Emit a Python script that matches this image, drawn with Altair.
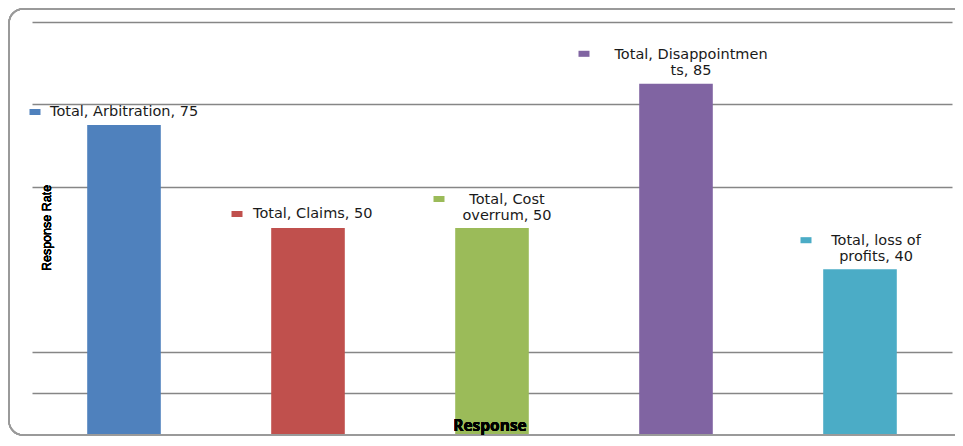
import altair as alt
import pandas as pd

categories = ["Arbitration", "Claims", "Cost overrum", "Disappointments", "loss of profits"]
values = [75, 50, 50, 85, 40]
label_lines = [
    ["Total, Arbitration, 75"],
    ["Total, Claims, 50"],
    ["Total, Cost", "overrum, 50"],
    ["Total, Disappointmen", "ts, 85"],
    ["Total, loss of", "profits, 40"],
]
colors = ["#4F81BD", "#C0504D", "#9BBB59", "#8064A2", "#4BACC6"]
grid_values = [10, 20, 60, 80, 100]

df = pd.DataFrame({"cat": categories, "val": values,
                   "label": ["\n".join(l) for l in label_lines]})

# label styling offsets (pixels): text dx, text dy, align, square dx, square dy
label_style = {
    "Arbitration": dict(dx=-74, dy=-13, align="left", sdx=-89, sdy=-13),
    "Claims": dict(dx=-55, dy=-14, align="left", sdx=-71, sdy=-14),
    "Cost overrum": dict(dx=15, dy=-28, align="center", sdx=-53, sdy=-29),
    "Disappointments": dict(dx=15, dy=-29, align="center", sdx=-92, sdy=-30),
    "loss of profits": dict(dx=16, dy=-28, align="center", sdx=-54, sdy=-29),
}

x_enc = alt.X("cat:N", sort=categories, axis=None,
              scale=alt.Scale(paddingInner=0.6, paddingOuter=0.3))
y_scale = alt.Scale(domain=[0, 100], nice=False)

frame = alt.Chart(df).mark_rect(
    fill=None, stroke="#9a9a9a", strokeWidth=1.5, cornerRadius=14
).encode(x=alt.value(-23), x2=alt.value(1000), y=alt.value(-13), y2=alt.value(413))

bars = alt.Chart(df).mark_bar().encode(
    x=x_enc,
    y=alt.Y("val:Q", scale=y_scale,
            axis=alt.Axis(values=grid_values, grid=True, labels=False, ticks=False,
                          domain=False, title=None, gridColor="#868686", gridWidth=1.4)),
    color=alt.Color("cat:N", sort=categories,
                    scale=alt.Scale(domain=categories, range=colors), legend=None),
)

layers = [frame, bars]
for cat in categories:
    st = label_style[cat]
    base = alt.Chart(df).transform_filter(alt.datum.cat == cat)
    layers.append(base.mark_text(
        font="DejaVu Sans", fontSize=14.5, color="#1a1a1a", align=st["align"],
        baseline="middle", lineBreak="\n", lineHeight=16, dx=st["dx"], dy=st["dy"]
    ).encode(x=alt.X("cat:N", sort=categories), y=alt.Y("val:Q", scale=y_scale), text="label:N"))
    layers.append(base.mark_point(
        filled=True, opacity=1, shape="M-1,-0.55L1,-0.55L1,0.55L-1,0.55Z", size=121,
        xOffset=st["sdx"], yOffset=st["sdy"]
    ).encode(x=alt.X("cat:N", sort=categories), y=alt.Y("val:Q", scale=y_scale),
             color=alt.Color("cat:N", sort=categories,
                             scale=alt.Scale(domain=categories, range=colors), legend=None)))

ytitle = alt.Chart(df).mark_text(
    text="Response Rate", angle=270, font="Liberation Sans", fontWeight="normal",
    fontSize=12.5, color="#000000", align="center", baseline="middle"
).encode(x=alt.value(15), y=alt.value(206))

xtitle = alt.Chart(df).mark_text(
    text="Response", font="Open Sans", fontWeight="bold", fontSize=15.5,
    color="#000000", align="center", baseline="middle"
).encode(x=alt.value(458), y=alt.value(404))

layers += [ytitle, xtitle]

chart = alt.layer(*layers).properties(
    width=920, height=412,
    autosize=alt.AutoSizeParams(type="none"),
    padding={"left": 24, "top": 14, "right": 3, "bottom": 4},
).configure_view(stroke=None)

chart.save("out.html", embed_options={"renderer": "svg", "actions": False})
